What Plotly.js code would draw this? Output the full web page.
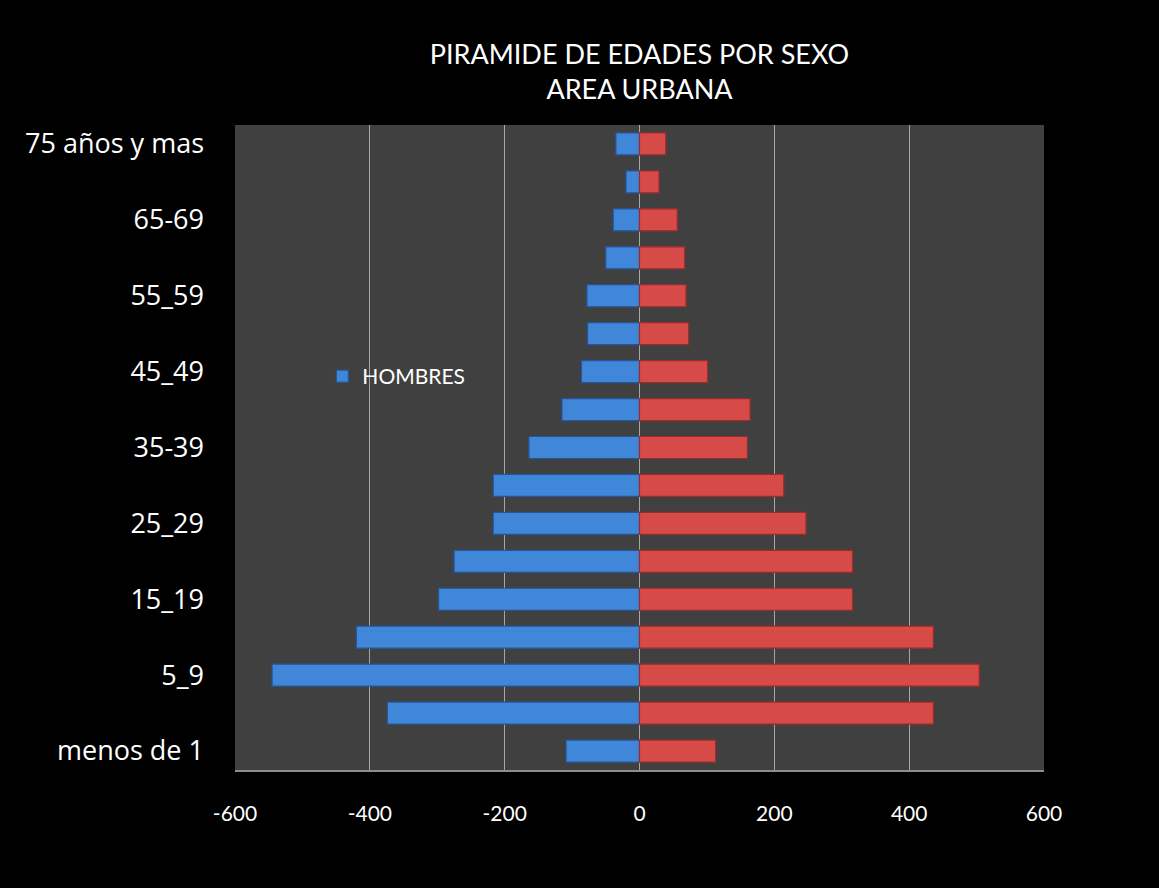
<!DOCTYPE html>
<html>
<head>
<meta charset="utf-8">
<script src="https://cdn.plot.ly/plotly-3.0.1.min.js"></script>
<style>html,body{margin:0;padding:0;background:#000;}#chart{width:1159px;height:888px;}</style>
</head>
<body>
<div id="chart"></div>
<script>
const categories = ["menos de 1","1_4","5_9","10_14","15_19","20_24","25_29","30_34","35-39","40_44","45_49","50_54","55_59","60_64","65-69","70_74","75 años y mas"];
const hombres = [-109,-374,-545,-420,-298,-275,-217,-217,-164,-115,-86,-77,-78,-50,-39,-20,-35];
const mujeres = [113,436,504,436,316,316,247,214,160,164,101,73,69,67,56,29,39];
const shownLabels = ["menos de 1","5_9","15_19","25_29","35-39","45_49","55_59","65-69","75 años y mas"];
const xTicks = [-600,-400,-200,0,200,400,600];

const FONT = "Lato, 'Open Sans', sans-serif";
const FONT2 = "'Open Sans', Lato, sans-serif";

const data = [
  {type:'bar', orientation:'h', name:'HOMBRES', y:categories, x:hombres,
   marker:{color:'#4086d9', line:{color:'#24569a', width:1.2}}, showlegend:true},
  {type:'bar', orientation:'h', name:'MUJERES', y:categories, x:mujeres,
   marker:{color:'#d64b48', line:{color:'#9a2c2c', width:1.2}}, showlegend:false}
];

const layout = {
  width:1159, height:888,
  paper_bgcolor:'#000000', plot_bgcolor:'#404040',
  margin:{l:235, r:115, t:125, b:118},
  barmode:'overlay', bargap:0.42,
  font:{family:FONT, color:'#ffffff'},
  title:{text:'PIRAMIDE DE EDADES POR SEXO<br>AREA URBANA', font:{family:FONT, size:27, color:'#ffffff'},
         xref:'paper', x:0.5, xanchor:'center', y:0.9275, yanchor:'middle'},
  xaxis:{range:[-600,600], tickvals:xTicks, ticktext:xTicks.map(String),
         showgrid:true, gridcolor:'#a6a6a6', gridwidth:1,
         zeroline:true, zerolinecolor:'#a6a6a6', zerolinewidth:1.5,
         showline:true, linecolor:'#8c8c8c', linewidth:1.5,
         ticks:'', tickfont:{family:FONT, size:21, color:'#ffffff'}, ticklabelstandoff:24, fixedrange:true},
  yaxis:{type:'category', categoryorder:'array', categoryarray:categories,
         tickvals:shownLabels, ticktext:shownLabels,
         showgrid:false, zeroline:false, showline:false, ticks:'',
         tickfont:{family:FONT2, size:27, color:'#ffffff'}, ticklabelstandoff:30, fixedrange:true},
  legend:{x:0.108, y:0.61, xanchor:'left', yanchor:'middle', bgcolor:'rgba(0,0,0,0)',
          font:{family:FONT, size:21, color:'#ffffff'}},
  showlegend:true
};

Plotly.newPlot('chart', data, layout, {displayModeBar:false, staticPlot:true});
</script>
</body>
</html>
